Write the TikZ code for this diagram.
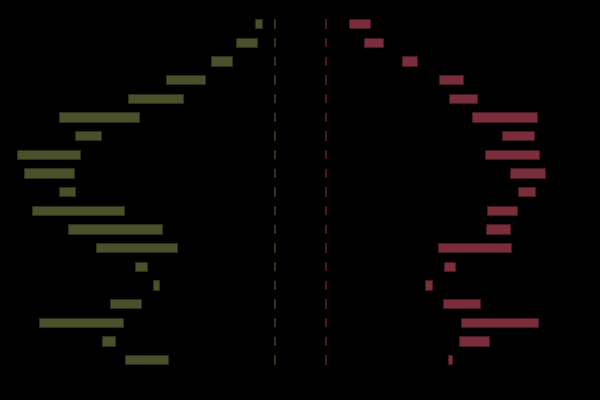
\documentclass[tikz,border=0pt]{standalone}
\begin{document}
\begin{tikzpicture}[x=0.75pt,y=-0.75pt,
  olivebar/.style={fill={rgb,255:red,75;green,79;blue,42},draw={rgb,255:red,45;green,48;blue,25},line width=0.5pt},
  maroonbar/.style={fill={rgb,255:red,122;green,46;blue,60},draw={rgb,255:red,70;green,25;blue,34},line width=0.5pt},
  leftdash/.style={draw={rgb,255:red,48;green,52;blue,30},line width=0.9pt,dash pattern=on 7pt off 7pt},
  rightdash/.style={draw={rgb,255:red,70;green,26;blue,36},line width=0.9pt,dash pattern=on 7pt off 7pt}]
\fill[black] (0,0) rectangle (600,400);
\useasboundingbox (0,0) rectangle (600,400);
\draw[leftdash] (275,19.33) -- (275,364.67);
\draw[rightdash] (326,19.33) -- (326,364.67);
\foreach \i/\a/\b in {0/255.3/262.7,1/236/257.3,2/211/232.3,3/166/205,4/128.3/183.7,5/59/139,6/75/101.7,7/17/80.3,8/24.3/74,9/59.7/75,10/32.3/124,11/68.7/162.7,12/96/177.3,13/135.7/147.7,14/153/159.7,15/110.7/141,16/39/123,17/102.7/115,18/125.3/168.3}
  \path[olivebar] (\a,{19.33+18.667*\i}) rectangle (\b,{28.67+18.667*\i});
\foreach \i/\a/\b in {0/349/370.7,1/364/383,2/402.7/417,3/439/463.7,4/449/477,5/472/537.3,6/502/534,7/485.3/539.7,8/510.3/545.3,9/518/535,10/487/517.3,11/486/510.7,12/438.3/511.7,13/444/455,14/425/432.3,15/443/480,16/461/538,17/459/489,18/448.7/452.7}
  \path[maroonbar] (\a,{19.33+18.667*\i}) rectangle (\b,{28.67+18.667*\i});
\end{tikzpicture}
\end{document}
